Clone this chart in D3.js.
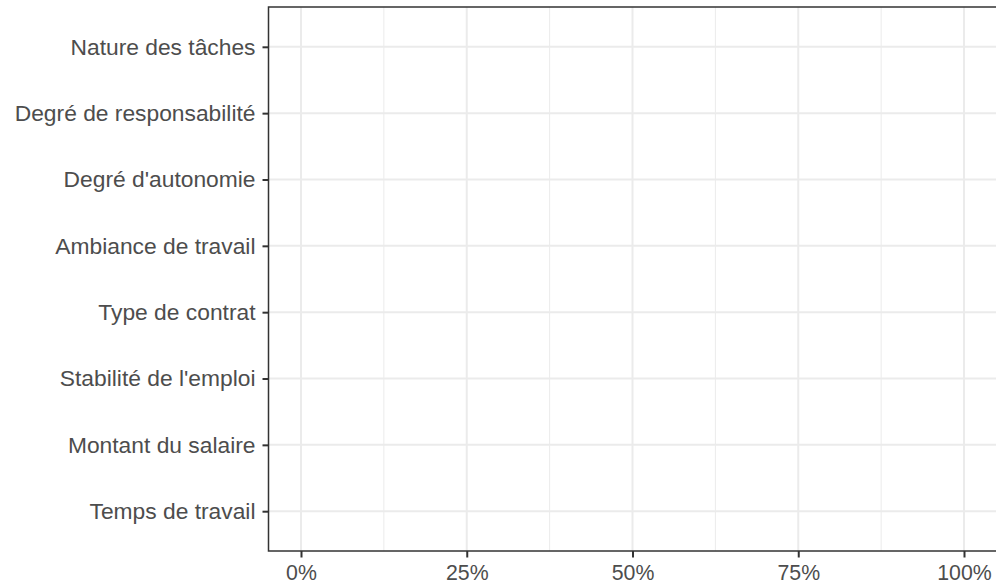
<!DOCTYPE html>
<html>
<head>
<meta charset="utf-8">
<script src="https://cdn.jsdelivr.net/npm/d3@7"></script>
<style>
  body { margin: 0; background: #fff; }
  svg { display: block; }
</style>
</head>
<body>
<svg id="chart"></svg>
<script>
// catégories (de haut en bas)
var categories = ["Nature des tâches", "Degré de responsabilité", "Degré d'autonomie",
  "Ambiance de travail", "Type de contrat", "Stabilité de l'emploi",
  "Montant du salaire", "Temps de travail"]
var xTicks = [0, 0.25, 0.5, 0.75, 1]
var xMinor = [0.125, 0.375, 0.625, 0.875]
var values = [] // aucune barre dans le panneau

var width = 996, height = 585
var svg = d3.select("#chart").attr("width", width).attr("height", height)

var panel = { left: 268.5, top: 7, bottom: 551 }
var x0 = 301, x1 = 964
var x = d3.scaleLinear().domain([0, 1]).range([x0, x1])
var panelRight = x(1.05)

// échelle discrète avec expansion de 0.6
var step = (panel.bottom - panel.top) / (categories.length - 1 + 1.2)
var y = d3.scalePoint()
    .domain(categories)
    .range([panel.top + 0.6 * step, panel.bottom - 0.6 * step])

var g = svg.append("g")

// grille mineure
g.selectAll(".minor")
    .data(xMinor)
    .enter().append("line")
    .attr("x1", d => x(d)).attr("x2", d => x(d))
    .attr("y1", panel.top).attr("y2", panel.bottom)
    .attr("stroke", "#ebebeb").attr("stroke-width", 1)

// grille majeure
g.selectAll(".vmajor")
    .data(xTicks)
    .enter().append("line")
    .attr("x1", d => x(d)).attr("x2", d => x(d))
    .attr("y1", panel.top).attr("y2", panel.bottom)
    .attr("stroke", "#ebebeb").attr("stroke-width", 2)
g.selectAll(".hmajor")
    .data(categories)
    .enter().append("line")
    .attr("x1", panel.left).attr("x2", panelRight)
    .attr("y1", d => y(d)).attr("y2", d => y(d))
    .attr("stroke", "#ebebeb").attr("stroke-width", 2)

// barres (vides)
g.selectAll(".bar")
    .data(values)
    .enter().append("rect")

// bordure du panneau
g.append("rect")
    .attr("x", panel.left).attr("y", panel.top)
    .attr("width", panelRight - panel.left).attr("height", panel.bottom - panel.top)
    .attr("fill", "none").attr("stroke", "#333333").attr("stroke-width", 1.5)

// axe Y
var yAxis = svg.append("g")
    .attr("transform", "translate(" + panel.left + ",0)")
    .call(d3.axisLeft(y).tickSize(6).tickPadding(7))
yAxis.select(".domain").remove()
yAxis.selectAll(".tick line").attr("stroke", "#333333").attr("stroke-width", 2)
yAxis.selectAll("text")
    .attr("fill", "#4d4d4d")
    .style("font-family", "Liberation Sans, Arial, sans-serif")
    .style("font-size", "22.8px")

// axe X
var xAxis = svg.append("g")
    .attr("transform", "translate(0," + panel.bottom + ")")
    .call(d3.axisBottom(x).tickValues(xTicks).tickFormat(d3.format(".0%")).tickSize(6.5).tickPadding(7))
xAxis.select(".domain").remove()
xAxis.selectAll(".tick line").attr("stroke", "#333333").attr("stroke-width", 2)
xAxis.selectAll("text")
    .attr("fill", "#4d4d4d")
    .style("font-family", "Liberation Sans, Arial, sans-serif")
    .style("font-size", "21.3px")
</script>
</body>
</html>
